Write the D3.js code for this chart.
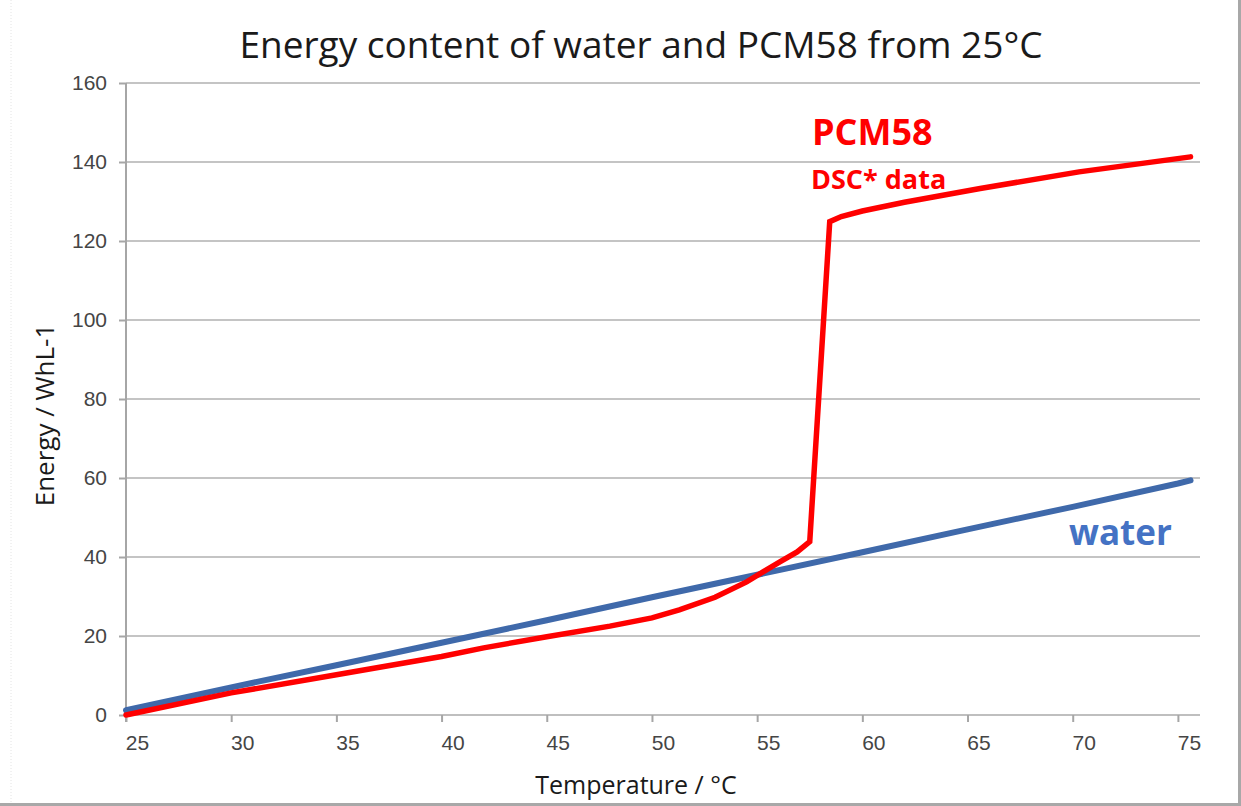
<!DOCTYPE html>
<html>
<head>
<meta charset="utf-8">
<script src="https://cdn.jsdelivr.net/npm/d3@7"></script>
<style>
  body { margin: 0; background: #fff; }
  svg { display: block; font-family: "Open Sans", "Noto Sans", sans-serif; }
  .tick text { fill: #454545; }
</style>
</head>
<body>
<div id="chart"></div>
<script>
// temperature (°C) and energy (Wh/L)
var waterTemp   = [25, 30, 35, 40, 45, 50, 55, 60, 65, 70, 75, 75.6];
var waterEnergy = [1.2, 7, 12.6, 18.3, 24, 29.8, 35.5, 41.2, 47, 52.7, 58.6, 59.4];

var pcmTemp   = [25, 30, 35, 40, 42, 45, 48, 50, 51.3, 53, 54.5, 55.3, 56.1, 56.9, 57.5, 58.45, 59, 60, 62, 65.6, 70.3, 75.6];
var pcmEnergy = [0, 5.6, 10.2, 14.8, 17, 19.8, 22.5, 24.6, 26.6, 29.8, 33.7, 36.3, 38.8, 41.3, 43.9, 124.9, 126.2, 127.6, 129.8, 133.3, 137.5, 141.3];

var xTicks = [25, 30, 35, 40, 45, 50, 55, 60, 65, 70, 75];
var yTicks = [0, 20, 40, 60, 80, 100, 120, 140, 160];

var W = 1241, H = 806;
var margin = {top: 83, right: 41, bottom: 91, left: 126},
    width = W - margin.left - margin.right,   // 1074
    height = H - margin.top - margin.bottom;  // 632

var svg = d3.select("#chart").append("svg")
    .attr("width", W)
    .attr("height", H);

// picture frame (dotted grey edges)
svg.append("rect").attr("x", 1238).attr("y", 0).attr("width", 3).attr("height", H).attr("fill", "#a8a8a8");
svg.append("rect").attr("x", 0).attr("y", 803).attr("width", W).attr("height", 3).attr("fill", "#a8a8a8");
svg.append("line").attr("x1", 11).attr("x2", 11).attr("y1", 0).attr("y2", 803)
    .attr("stroke", "#e4e4e4").attr("stroke-dasharray", "1,2");

var g = svg.append("g")
    .attr("transform", "translate(" + margin.left + "," + margin.top + ")");

var x = d3.scaleLinear().domain([25, 76.05]).range([0, width]);
var y = d3.scaleLinear().domain([0, 160]).range([height, 0]);

// gridlines
g.append("g")
    .selectAll("line")
    .data(yTicks.filter(function(d) { return d > 0; }))
  .enter().append("line")
    .attr("x1", 0).attr("x2", width)
    .attr("y1", function(d) { return y(d); })
    .attr("y2", function(d) { return y(d); })
    .attr("stroke", "#c4c4c4")
    .attr("stroke-width", 2);

// y axis
var yAxis = g.append("g")
    .call(d3.axisLeft(y).tickValues(yTicks).tickSize(7).tickPadding(12));
yAxis.select(".domain").attr("stroke", "#a6a6a6").attr("stroke-width", 2).attr("d", "M0," + (height + 7) + "V0");
yAxis.selectAll(".tick line").attr("stroke", "#a6a6a6").attr("stroke-width", 2);
yAxis.selectAll(".tick text").attr("font-size", 21);

// x axis
var xAxis = g.append("g")
    .attr("transform", "translate(0," + height + ")")
    .call(d3.axisBottom(x).tickValues(xTicks).tickSize(7).tickPadding(13));
xAxis.select(".domain").attr("stroke", "#bfbfbf").attr("stroke-width", 2).attr("d", "M0,0H" + width);
xAxis.selectAll(".tick line").attr("stroke", "#a6a6a6").attr("stroke-width", 2);
xAxis.selectAll(".tick text").attr("font-size", 21).attr("dx", 11);

// lines
var line = d3.line()
    .x(function(d) { return x(d[0]); })
    .y(function(d) { return y(d[1]); });

g.append("path")
    .datum(d3.zip(waterTemp, waterEnergy))
    .attr("fill", "none")
    .attr("stroke", "#3f69aa")
    .attr("stroke-width", 6)
    .attr("stroke-linejoin", "round")
    .attr("stroke-linecap", "round")
    .attr("d", line);

g.append("path")
    .datum(d3.zip(pcmTemp, pcmEnergy))
    .attr("fill", "none")
    .attr("stroke", "#ff0000")
    .attr("stroke-width", 5.5)
    .attr("stroke-linejoin", "miter")
    .attr("stroke-linecap", "round")
    .attr("d", line);

// series labels
g.append("text")
    .attr("x", 812 - margin.left).attr("y", 145 - margin.top)
    .attr("fill", "#ff0000").attr("font-weight", "bold").attr("font-size", 36)
    .text("PCM58");
g.append("text")
    .attr("x", 811 - margin.left).attr("y", 189 - margin.top)
    .attr("fill", "#ff0000").attr("font-weight", "bold").attr("font-size", 27)
    .text("DSC* data");
g.append("text")
    .attr("x", 1069 - margin.left).attr("y", 545 - margin.top)
    .attr("fill", "#4472c4").attr("font-weight", "bold").attr("font-size", 35)
    .text("water");

// title and axis titles
svg.append("text")
    .attr("x", 641).attr("y", 58)
    .attr("text-anchor", "middle")
    .attr("font-size", 37)
    .attr("fill", "#1a1a1a")
    .text("Energy content of water and PCM58 from 25°C");

svg.append("text")
    .attr("x", 636).attr("y", 794)
    .attr("text-anchor", "middle")
    .attr("font-size", 25)
    .attr("fill", "#1a1a1a")
    .text("Temperature / °C");

svg.append("text")
    .attr("transform", "translate(54,415) rotate(-90)")
    .attr("text-anchor", "middle")
    .attr("font-size", 26)
    .attr("fill", "#1a1a1a")
    .text("Energy / WhL-1");
</script>
</body>
</html>
